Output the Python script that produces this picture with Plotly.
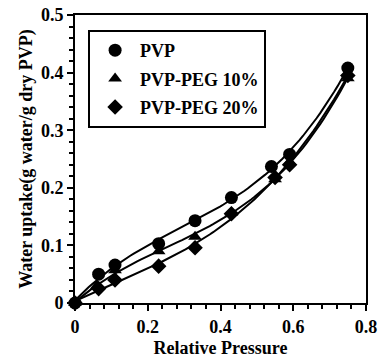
import numpy as np
import plotly.graph_objects as go

x_pvp = [0, 0.065, 0.11, 0.23, 0.33, 0.43, 0.54, 0.59, 0.75]
y_pvp = [0, 0.050, 0.066, 0.103, 0.143, 0.183, 0.237, 0.258, 0.408]

x_peg10 = [0, 0.06, 0.11, 0.23, 0.33, 0.43, 0.55, 0.59, 0.75]
y_peg10 = [0, 0.030, 0.057, 0.090, 0.115, 0.157, 0.215, 0.245, 0.390]

x_peg20 = [0, 0.065, 0.11, 0.23, 0.33, 0.43, 0.55, 0.59, 0.75]
y_peg20 = [0, 0.025, 0.040, 0.064, 0.096, 0.155, 0.218, 0.240, 0.395]

names = ["PVP", "PVP-PEG 10%", "PVP-PEG 20%"]
x_ticks = [0, 0.2, 0.4, 0.6, 0.8]
x_tick_labels = ["0", "0.2", "0.4", "0.6", "0.8"]
y_ticks = [0, 0.1, 0.2, 0.3, 0.4, 0.5]
y_tick_labels = ["0", "0.1", "0.2", "0.3", "0.4", "0.5"]

FONT = "Liberation Serif"
series = [(x_pvp, y_pvp, "circle", 13), (x_peg10, y_peg10, "triangle-up", 12), (x_peg20, y_peg20, "diamond", 12)]

fig = go.Figure()
for (xs, ys, sym, sz), nm in zip(series, names):
    coef = np.polyfit(xs, ys, 3)
    xf = np.linspace(min(xs), max(xs), 80)
    yf = np.polyval(coef, xf)
    fig.add_trace(go.Scatter(x=xf, y=yf, mode="lines", line=dict(color="black", width=2),
                             showlegend=False, hoverinfo="skip", cliponaxis=False))
for i, ((xs, ys, sym, sz), nm) in enumerate(zip(series, names)):
    fig.add_trace(go.Scatter(x=xs, y=ys, mode="markers", name=nm, legendgroup=str(i),
                             marker=dict(symbol=sym, size=sz, color="black"), cliponaxis=False))

bold = dict(family=FONT, size=18, color="black", weight="bold")
fig.update_layout(
    width=378, height=358,
    margin=dict(l=75, r=12, t=15, b=55),
    paper_bgcolor="white", plot_bgcolor="white",
    font=dict(family=FONT, size=18, color="black"),
    showlegend=True,
    legend=dict(x=0.045, y=0.948, xanchor="left", yanchor="top",
                bordercolor="black", borderwidth=2, bgcolor="white",
                font=bold, tracegroupgap=2, itemwidth=40),
    xaxis=dict(range=[0, 0.8], tickvals=x_ticks, ticktext=x_tick_labels, automargin=False,
               showgrid=False, zeroline=False, showline=True, linecolor="black", linewidth=2,
               mirror=True, ticks="outside", ticklen=6, tickwidth=2, tickcolor="black",
               minor=dict(dtick=0.04, ticks="outside", ticklen=4, tickwidth=2, tickcolor="black"),
               tickfont=bold,
               title=dict(text="Relative Pressure", font=bold, standoff=6)),
    yaxis=dict(range=[0, 0.5], tickvals=y_ticks, ticktext=y_tick_labels, automargin=False,
               showgrid=False, zeroline=False, showline=True, linecolor="black", linewidth=2,
               mirror=True, ticks="outside", ticklen=6, tickwidth=2, tickcolor="black",
               minor=dict(dtick=0.02, ticks="outside", ticklen=4, tickwidth=2, tickcolor="black"),
               tickfont=bold,
               title=dict(text="Water uptake(g water/g dry PVP)", font=bold, standoff=4)),
)

fig.write_html("out.html", config={"displayModeBar": False},
               post_script="document.body.style.margin='0px';")
